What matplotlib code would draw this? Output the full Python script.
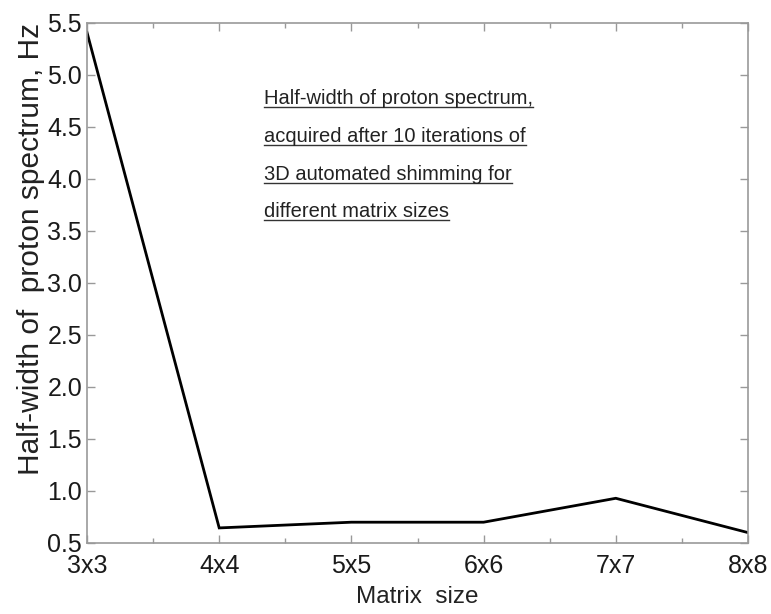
import matplotlib
matplotlib.use("Agg")
import matplotlib.pyplot as plt
from matplotlib.lines import Line2D
from matplotlib.ticker import MultipleLocator

plt.rcParams["font.family"] = ["Liberation Sans", "DejaVu Sans"]

matrix_sizes = ["3x3", "4x4", "5x5", "6x6", "7x7", "8x8"]
half_width_hz = [5.41, 0.645, 0.70, 0.70, 0.93, 0.60]
y_ticks = [0.5, 1.0, 1.5, 2.0, 2.5, 3.0, 3.5, 4.0, 4.5, 5.0, 5.5]
note_lines = [
    "Half-width of proton spectrum,",
    "acquired after 10 iterations of",
    "3D automated shimming for",
    "different matrix sizes",
]

W, H = 771, 614
fig = plt.figure(figsize=(W / 100, H / 100), dpi=100)
# axes box: x 87..748, y 23..543 (pixels)
ax = fig.add_axes([87 / W, (H - 543) / H, (748 - 87) / W, (543 - 23) / H])

x = list(range(len(matrix_sizes)))
ax.plot(x, half_width_hz, color="black", lw=2.0, solid_joinstyle="miter")

ax.set_xlim(0, len(matrix_sizes) - 1)
ax.set_ylim(0.5, 5.5)
ax.set_xticks(x)
ax.set_xticklabels(matrix_sizes)
ax.set_yticks(y_ticks)
ax.set_yticklabels([f"{v:.1f}" for v in y_ticks])
ax.xaxis.set_minor_locator(MultipleLocator(0.5))

for s in ax.spines.values():
    s.set_color("#999999")
    s.set_linewidth(1.2)
ax.tick_params(which="both", direction="in", top=True, right=True,
               color="#999999", labelsize=18, labelcolor="#1a1a1a")
ax.tick_params(which="major", length=6, width=1.0)
ax.tick_params(which="minor", length=3.5, width=1.0)
ax.tick_params(axis="x", pad=8)
ax.tick_params(axis="y", pad=3.5)

ax.set_xlabel("Matrix  size", fontsize=17.5, color="#222222", labelpad=6)
ax.set_ylabel("Half-width of  proton spectrum, Hz", fontsize=21.5,
              color="#222222")
ax.yaxis.set_label_coords(-0.064, (543 - 249) / 520)

# annotation block with underlines
fig.canvas.draw()
renderer = fig.canvas.get_renderer()
baselines = [104, 142, 180, 217]
for line, by in zip(note_lines, baselines):
    t = fig.text(264 / W, 1 - by / H, line, fontsize=14.5,
                 color="#222222", ha="left", va="baseline")
    bb = t.get_window_extent(renderer)
    uy = 1 - (by + 3) / H
    fig.add_artist(Line2D([bb.x0 / W, bb.x1 / W], [uy, uy],
                          color="#333333", lw=1.0))

fig.savefig("out.png", dpi=100)
